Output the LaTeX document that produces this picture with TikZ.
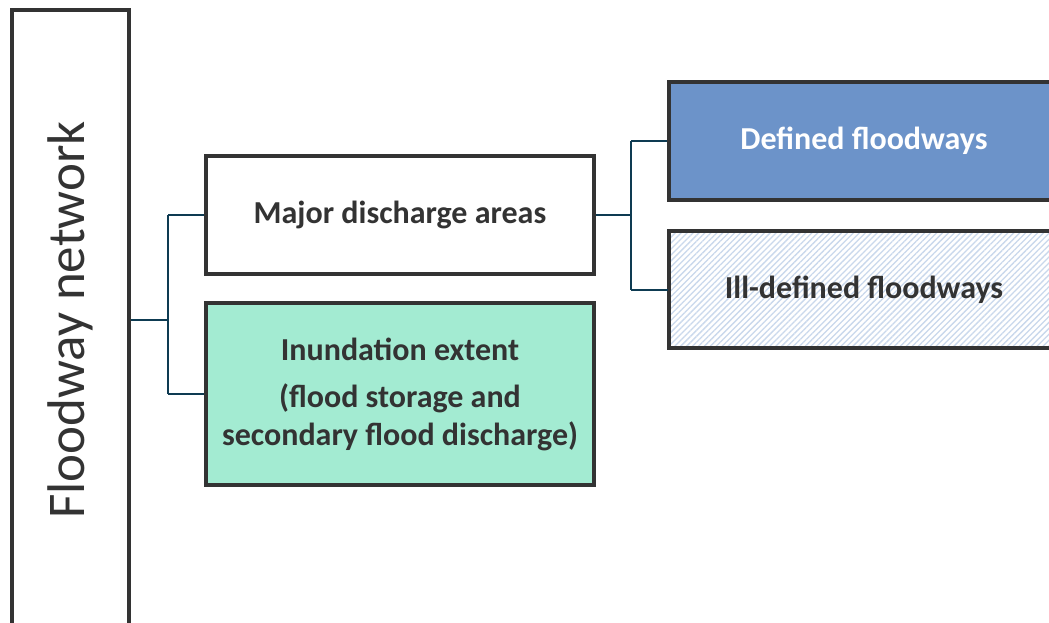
\documentclass[tikz,border=0pt]{standalone}
\usepackage{fontspec}
\setmainfont{Carlito}
\usetikzlibrary{patterns.meta}
\definecolor{edge}{HTML}{333333}
\definecolor{conn}{HTML}{0E3B52}
\definecolor{bluefill}{HTML}{6C93C9}
\definecolor{greenfill}{HTML}{A3EBD2}
\definecolor{hatch}{HTML}{C9D8EC}
\definecolor{txt}{HTML}{333333}
\tikzset{
  box/.style={draw=edge, line width=3.2pt, inner sep=0pt, align=center, text=txt,
    font=\fontsize{32}{38}\selectfont\bfseries},
  conn/.style={draw=conn, line width=2pt},
}
\begin{document}
\begin{tikzpicture}[x=1pt,y=-1pt]
\useasboundingbox (0,0) rectangle (1049,623);
\clip (0,0) rectangle (1049,623);
\node[box, font=\fontsize{53}{53}\selectfont, minimum width=620pt, minimum height=117pt, rotate=90]
  (net) at (70.5,320) {Floodway network};
\node[box, fill=white, minimum width=388pt, minimum height=118pt] (major) at (400,215) {Major discharge areas};
\node[box, fill=greenfill, minimum width=388pt, minimum height=182pt] (inund) at (400,394)
  {Inundation extent\\[9pt](flood storage and\\secondary flood discharge)};
\node[box, fill=bluefill, text=white, minimum width=390pt, minimum height=118pt] (def) at (864,141) {Defined floodways};
\node[box, preaction={fill=white}, pattern={Lines[angle=45,distance=4.2pt,line width=1.3pt]}, pattern color=hatch,
  minimum width=390pt, minimum height=117pt] (ill) at (864,289.5) {Ill-defined floodways};
\coordinate (j1) at (168,320);
\coordinate (j2) at (631,215);
\draw[conn] (net.south |- j1) -- (j1);
\draw[conn] (j1 |- major.west) -- (j1 |- inund.west);
\draw[conn] (j1 |- major.west) -- (major.west);
\draw[conn] (j1 |- inund.west) -- (inund.west);
\draw[conn] (major.east) -- (j2);
\draw[conn] (j2 |- def.west) -- (j2 |- ill.west);
\draw[conn] (j2 |- def.west) -- (def.west);
\draw[conn] (j2 |- ill.west) -- (ill.west);
\end{tikzpicture}
\end{document}
